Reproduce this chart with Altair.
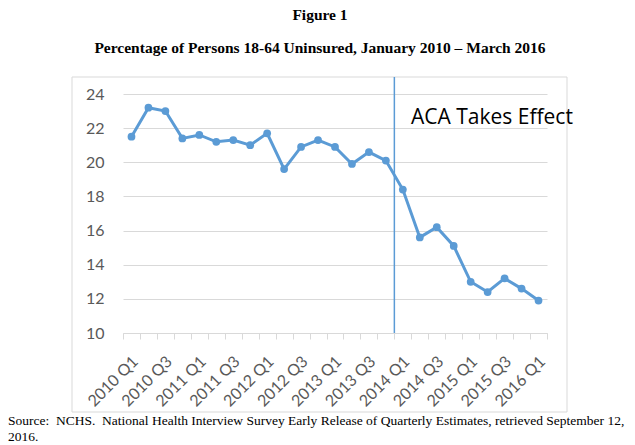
import altair as alt
import pandas as pd

quarters = [f"{y} Q{q}" for y in range(2010, 2016) for q in range(1, 5)] + ["2016 Q1"]
uninsured = [21.5, 23.2, 23.0, 21.4, 21.6, 21.2, 21.3, 21.0, 21.7, 19.6, 20.9, 21.3,
             20.9, 19.9, 20.6, 20.1, 18.4, 15.6, 16.2, 15.1, 13.0, 12.4, 13.2, 12.6, 11.9]
shown_labels = quarters[::2]
y_ticks = [10, 12, 14, 16, 18, 20, 22, 24]
aca_quarter = ["2014 Q1"]
annotation = ["ACA Takes Effect"]
title1 = "Figure 1"
title2 = "Percentage of Persons 18-64 Uninsured, January 2010 \u2013 March 2016"
source1 = "Source:\u00a0 NCHS.\u00a0 National Health Interview Survey Early Release of Quarterly Estimates, retrieved September 12,"
source2 = "2016."

df = pd.DataFrame({"q": quarters, "v": uninsured})
W, H = 424, 239
label_list = "[" + ",".join(f"'{s}'" for s in shown_labels) + "]"

xscale = alt.Scale(type="band", paddingInner=0, paddingOuter=0)
xenc = alt.X("q:O", sort=quarters, scale=xscale,
             axis=alt.Axis(title=None, labelAngle=-45, labelAlign="right", labelBaseline="top",
                           labelExpr=f"indexof({label_list}, datum.value) >= 0 ? datum.value : ''",
                           labelFont="Lato", labelFontSize=16, labelColor="#595959",
                           labelPadding=14, labelOffset=-2, tickBand="extent", tickSize=6,
                           tickColor="#d9d9d9", domainColor="#d9d9d9", domainWidth=1, grid=False))
yenc = alt.Y("v:Q", scale=alt.Scale(domain=[10, 24], nice=False, zero=False),
             axis=alt.Axis(title=None, values=y_ticks, labelFont="Lato", labelFontSize=16,
                           labelColor="#595959", labelPadding=19, ticks=False, domain=False,
                           gridColor="#d9d9d9", gridWidth=1))

base = alt.Chart(df)
frame = alt.Chart(pd.DataFrame({"a": [0]})).mark_rect(fillOpacity=0, stroke="#d9d9d9", strokeWidth=1).encode(
    x=alt.value(-51), x2=alt.value(444), y=alt.value(-17), y2=alt.value(318))
line = base.mark_line(color="#5b9bd5", strokeWidth=3).encode(x=xenc, y=yenc)
pts = base.mark_point(filled=True, color="#5b9bd5", size=60, opacity=1).encode(x=xenc, y=yenc)
rule = alt.Chart(pd.DataFrame({"q": aca_quarter})).mark_rule(color="#5b9bd5", strokeWidth=1.5).encode(
    x=alt.X("q:O", sort=quarters, scale=xscale, bandPosition=0), y=alt.value(-17), y2=alt.value(H))
ann = alt.Chart(pd.DataFrame({"t": annotation})).mark_text(
    font="Open Sans", fontSize=21, color="black", align="left", baseline="alphabetic").encode(
    text="t:N", x=alt.value(288), y=alt.value(30))

def txt(s, x, y, size, bold=False, align="center"):
    return alt.Chart(pd.DataFrame({"t": [s]})).mark_text(
        font="Liberation Serif", fontSize=size, fontWeight="bold" if bold else "normal",
        color="black", align=align, baseline="alphabetic").encode(
        text="t:N", x=alt.value(x), y=alt.value(y))

chart = alt.layer(
    frame, line, pts, rule, ann,
    txt(title1, 197, -74, 15.5, True),
    txt(title2, 197, -41, 15.5, True),
    txt(source1, -115, 331, 13.5, False, "left"),
    txt(source2, -115, 347, 13.5, False, "left"),
).properties(
    width=W, height=H,
    autosize=alt.AutoSizeParams(type="none"),
    padding={"left": 115, "top": 86, "right": 80, "bottom": 110},
).configure_view(stroke=None)

chart.save("out.html", embed_options={"renderer": "svg", "actions": False})
